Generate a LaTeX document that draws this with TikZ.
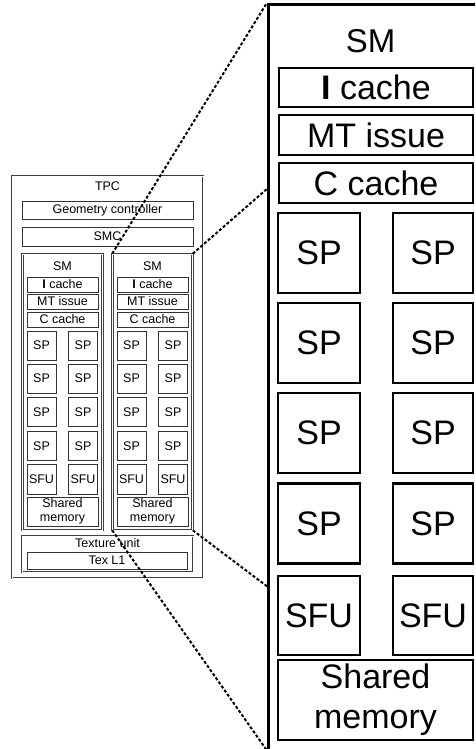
\documentclass[tikz,border=0pt]{standalone}
\usepackage{fontspec}
\setmainfont{Liberation Sans}
\tikzset{
  sbox/.style={draw=black!80, line width=0.8pt, inner sep=0pt,
    font=\fontsize{12.5}{14.5}\selectfont, align=center},
  sframe/.style={draw=black!75, double=white, double distance=0.9pt,
    line width=0.6pt, inner sep=0pt},
  slabel/.style={inner sep=0pt, font=\fontsize{12.5}{14.5}\selectfont},
  bbox/.style={draw=black, line width=2.2pt, inner sep=0pt,
    font=\fontsize{34}{40}\selectfont, align=center},
  blabel/.style={inner sep=0pt, font=\fontsize{33}{40}\selectfont},
  zoomline/.style={dash pattern=on 3pt off 2pt, line width=2pt},
}
\begin{document}
\begin{tikzpicture}[x=1pt,y=-1pt]
\clip (0,0) rectangle (475,749);
\fill[white] (0,0) rectangle (475,749);

% ---------- TPC overview ----------
\node[sframe, minimum width=191, minimum height=402] (tpc) at (107.5,377) {};
\node[slabel] (tpclabel) at (107.5,186) {TPC};
\node[sbox, minimum width=171, minimum height=18] (geo) at (107.5,210) {Geometry controller};
\node[sbox, minimum width=171, minimum height=19] (smc) at (107.5,236.5) {SMC};

\foreach \n/\cx in {L/62.5, R/152.5}{
  \node[sframe, minimum width=80, minimum height=276] (sm\n) at (\cx,392) {};
  \node[slabel] (smlabel\n) at (\cx,266) {SM};
  \node[sbox, minimum width=71, minimum height=15] (ic\n) at (\cx,284.5) {\textbf{I} cache};
  \node[sbox, minimum width=71, minimum height=15] (mt\n) at (\cx,301.5) {MT issue};
  \node[sbox, minimum width=71, minimum height=15] (cc\n) at (\cx,319.5) {C cache};
  \foreach \r/\cy in {1/345.5, 2/378.5, 3/412, 4/446}{
    \node[sbox, minimum width=29, minimum height=29] (sp\n\r a) at ({\cx-21},\cy) {SP};
    \node[sbox, minimum width=29, minimum height=29] (sp\n\r b) at ({\cx+20.5},\cy) {SP};
  }
  \node[sbox, minimum width=29, minimum height=30] (sfu\n a) at ({\cx-21},479) {SFU};
  \node[sbox, minimum width=29, minimum height=30] (sfu\n b) at ({\cx+20.5},479) {SFU};
  \node[sbox, minimum width=71, minimum height=29] (shm\n) at (\cx,511.5) {Shared\\memory};
}

\node[sframe, minimum width=171, minimum height=36] (tex) at (107.5,554) {};
\node[slabel] (texlabel) at (107.5,543.5) {Texture unit};
\node[sbox, minimum width=160, minimum height=17] (texl1) at (107,560.5) {Tex L1};

% ---------- enlarged SM ----------
\node[draw=black, line width=3pt, minimum width=212, minimum height=755, inner sep=0pt] (big) at (374,382.5) {};
\node[blabel] (biglabel) at (370.5,41) {SM};
\node[bbox, minimum width=194, minimum height=39] (bic) at (376,87.5) {\textbf{I} cache};
\node[bbox, minimum width=194, minimum height=40] (bmt) at (376,135) {MT issue};
\node[bbox, minimum width=194, minimum height=40] (bcc) at (376,183) {C cache};
\foreach \r/\cy in {1/253, 2/343, 3/433, 4/523.5}{
  \node[bbox, minimum width=82, minimum height=80] (bsp\r a) at (319,\cy) {SP};
  \node[bbox, minimum width=80, minimum height=80] (bsp\r b) at (433,\cy) {SP};
}
\node[bbox, minimum width=82, minimum height=79] (bsfua) at (319,615.5) {SFU};
\node[bbox, minimum width=80, minimum height=79] (bsfub) at (433,615.5) {SFU};
\node[bbox, minimum width=195, minimum height=80] (bshm) at (375.5,700) {Shared\\memory};

% ---------- zoom guides ----------
\coordinate (zA) at (268,188);
\coordinate (zB) at (268,587);
\coordinate (zC) at (268,752);
\draw[zoomline] (smR.north west) -- (big.north west);
\draw[zoomline] (smR.north east) -- (zA);
\draw[zoomline] (smR.south west) -- (zC);
\draw[zoomline] (smR.south east) -- (zB);
\end{tikzpicture}
\end{document}
